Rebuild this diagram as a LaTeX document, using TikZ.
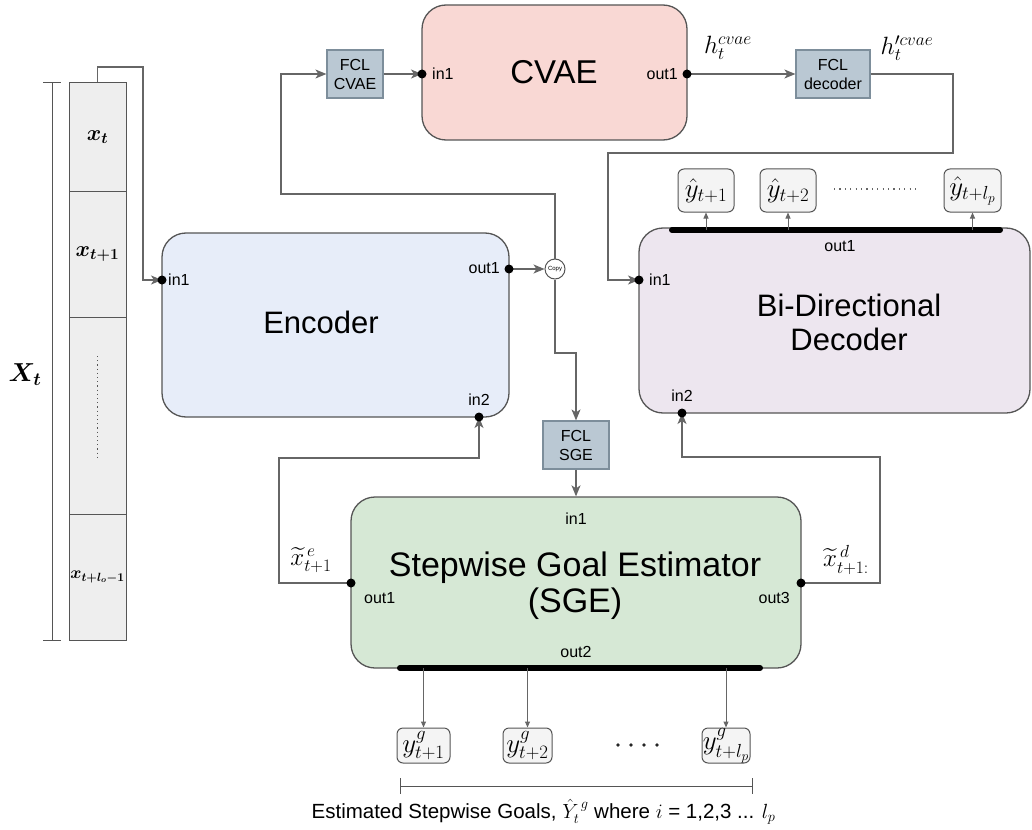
\RequirePackage{fix-cm}
\documentclass[tikz,border=0pt]{standalone}
\usepackage{amsmath,bm}
\usepackage{fontspec}
\setmainfont{Liberation Sans}
\usetikzlibrary{arrows.meta}

\definecolor{linec}{HTML}{555555}
\definecolor{connc}{HTML}{666666}
\definecolor{cvaefill}{HTML}{F9D8D4}
\definecolor{encfill}{HTML}{E7EDF9}
\definecolor{decfill}{HTML}{EDE6EF}
\definecolor{sgefill}{HTML}{D6E8D5}
\definecolor{fclfill}{HTML}{BAC8D3}
\definecolor{fclline}{HTML}{7D8E9B}
\definecolor{outfill}{HTML}{F4F4F4}
\definecolor{colfill}{HTML}{EEEEEE}

\newcommand{\bigtxt}{\fontsize{31}{36}\selectfont}
\newcommand{\porttxt}{\fontsize{16}{19}\selectfont}
\newcommand{\fcltxt}{\fontsize{16}{19}\selectfont}
\newcommand{\mathlab}{\fontsize{25}{28}\selectfont}
\newcommand{\boxmath}{\fontsize{27}{30}\selectfont}

\tikzset{
  block/.style={draw=linec, line width=1.3pt, rounded corners=24pt, inner sep=0pt},
  fcl/.style={draw=fclline, line width=1.2pt, fill=fclfill, inner sep=0pt,
              minimum height=48pt, align=center, font=\fcltxt},
  outbox/.style={draw=linec, line width=1pt, fill=outfill, rounded corners=6pt,
                 inner sep=0pt, font=\boxmath},
  cell/.style={draw=linec, line width=1pt, fill=colfill, inner sep=0pt,
               minimum width=57pt},
  conn/.style={draw=connc, line width=1.3pt},
  arr/.style={conn, -{Stealth[length=11pt,width=9pt,inset=3pt]}},
  sarr/.style={draw=connc, line width=1pt, -{Triangle[length=6pt,width=5pt]}},
  bar/.style={line width=6pt, line cap=round, black},
  port/.style={font=\porttxt, inner sep=2pt},
  pdot/.style={fill=black}
}

\begin{document}
\begin{tikzpicture}[x=1pt,y=-1pt]
\useasboundingbox (0,0) rectangle (1032,829);

% ---------- main blocks ----------
\node[block, fill=cvaefill, minimum width=265pt, minimum height=135pt] (cvae) at (554.5,72.5) {};
\node[font=\fontsize{33}{38}\selectfont] (cvaet) at (554,72) {CVAE};

\node[block, fill=encfill, minimum width=347pt, minimum height=184pt] (enc) at (335.5,325) {};
\node[font=\bigtxt] (enct) at (321,322) {Encoder};

\node[block, fill=decfill, minimum width=391pt, minimum height=185pt] (dec) at (834.5,320.5) {};
\node[font=\bigtxt, align=center] (dect) at (849,322) {Bi-Directional\\[-2pt]Decoder};

\node[block, fill=sgefill, minimum width=450pt, minimum height=171pt] (sge) at (576,582.5) {};
\node[font=\fontsize{34}{39}\selectfont, align=center] (sget) at (575,586) {Stepwise Goal Estimator\\[-3pt](SGE)};

% ---------- fully connected layers ----------
\node[fcl, minimum width=56pt] (fclc) at (355,74) {FCL\\CVAE};
\node[fcl, minimum width=74pt] (fcld) at (833,74) {FCL\\decoder};
\node[fcl, minimum width=66pt] (fcls) at (576,445) {FCL\\SGE};

% ---------- copy junction ----------
\node[draw=linec, line width=1pt, fill=white, circle, minimum size=20pt, inner sep=0pt,
      font=\fontsize{6}{7}\selectfont] (copy) at (555,269) {Copy};

% ---------- ports ----------
\coordinate (ein1) at (162,280);
\coordinate (eout1) at (509,269);
\coordinate (ein2) at (479,417);
\coordinate (cin1) at (422,74);
\coordinate (cout1) at (687,74);
\coordinate (din1) at (639,280);
\coordinate (din2) at (682,413);
\coordinate (sout1) at (351,583);
\coordinate (sout3) at (801,583);

\node[port, anchor=west] (l1) at (166,280) {in1};
\node[port, anchor=east] (l2) at (502,268) {out1};
\node[port, anchor=south] (l3) at (479,408) {in2};
\node[port, anchor=west] (l4) at (430,74) {in1};
\node[port, anchor=east] (l5) at (680,74) {out1};
\node[port, anchor=west] (l6) at (647,280) {in1};
\node[port, anchor=south] (l7) at (682,404) {in2};
\node[port] (l8) at (840,246) {out1};
\node[port] (l9) at (576,519) {in1};
\node[port, anchor=north west] (l10) at (362,590) {out1};
\node[port, anchor=north east] (l11) at (792,590) {out3};
\node[port] (l12) at (576,652) {out2};

% ---------- input sequence column ----------
\node[cell, minimum height=108pt] (col1) at (97.5,137) {\fontsize{22}{24}\selectfont$\bm{x_t}$};
\node[cell, minimum height=126pt] (col2) at (97.5,254) {\fontsize{22}{24}\selectfont$\bm{x_{t+1}}$};
\node[cell, minimum height=197pt] (col3) at (97.5,415.5) {};
\node[cell, minimum height=126pt] (col4) at (97.5,577) {\fontsize{17}{19}\selectfont$\bm{x_{t+l_o-1}}$};
\draw[linec, line width=1.6pt, dash pattern=on 1.2pt off 3pt] (97.5,356) -- (97.5,460);

% bracket for X_t
\coordinate (xbt) at (52,83);
\coordinate (xbb) at (52,640);
\draw[linec, line width=1pt] (xbt) -- (xbb) (43,83) -- (61,83) (43,640) -- (61,640);
\node[font=\fontsize{26}{30}\selectfont] (xlab) at (25,375) {$\bm{X_t}$};

% ---------- connectors ----------
\coordinate (k1) at (143,67);
\draw[arr] (col1.north) |- (k1) |- (ein1);

\draw[arr] (eout1) -- (copy.west);
\coordinate (k2) at (281,194);
\draw[arr] (copy.north) |- (k2) |- (fclc.west);
\draw[arr] (fclc.east) -- (cin1);
\coordinate (k3) at (576,353);
\draw[arr] (copy.south) |- (k3) -- (fcls.north);
\draw[arr] (fcls.south) -- (sge.north);

\draw[arr] (cout1) -- (fcld.west);
\coordinate (k4) at (953,153);
\coordinate (k5) at (608,153);
\draw[arr] (fcld.east) -| (k4) -- (k5) |- (din1);

\coordinate (k6) at (279,458);
\draw[arr] (sout1) -| (k6) -| (ein2);
\coordinate (k7) at (880,457);
\draw[arr] (sout3) -| (k7) -| (din2);

% connector labels
\node[font=\mathlab] (hc) at (728,48) {$h_t^{cvae}$};
\node[font=\mathlab] (hc2) at (907,48) {$h_t^{\prime cvae}$};
\node[font=\mathlab] (xe) at (311,560) {$\widetilde{x}^{\,e}_{t+1}$};
\node[font=\mathlab] (xd) at (846,560) {$\widetilde{x}^{\,d}_{t+1:}$};

% port dots
\foreach \p in {ein1,eout1,ein2,cin1,cout1,din1,din2,sout1,sout3}
  \fill[pdot] (\p) circle (4.5pt);

% ---------- decoder outputs ----------
\coordinate (dbl) at (672,230);
\coordinate (dbr) at (1000,230);
\draw[bar] (dbl) -- (dbr);
\node[outbox, minimum width=56pt, minimum height=43pt] (yh1) at (706,190.5) {$\hat{y}_{t+1}$};
\node[outbox, minimum width=56pt, minimum height=43pt] (yh2) at (788,190.5) {$\hat{y}_{t+2}$};
\node[outbox, minimum width=57pt, minimum height=43pt] (yh3) at (972.5,190.5) {$\hat{y}_{t+l_p}$};
\foreach \b in {yh1,yh2,yh3}
  \draw[sarr] (\b.south |- dbl) -- (\b.south);
\draw[connc, line width=1.4pt, dash pattern=on 1.2pt off 4.2pt] (834,189) -- (920,189);

% ---------- SGE outputs ----------
\coordinate (sbl) at (400,668);
\coordinate (sbr) at (760,668);
\draw[bar] (sbl) -- (sbr);
\node[outbox, minimum width=53pt, minimum height=35pt] (yg1) at (423.5,745.5) {$y^g_{t+1}$};
\node[outbox, minimum width=49pt, minimum height=35pt] (yg2) at (527.5,745.5) {$y^g_{t+2}$};
\node[outbox, minimum width=48pt, minimum height=35pt] (yg3) at (726,745.5) {$y^g_{t+l_p}$};
\foreach \b in {yg1,yg2,yg3}
  \draw[sarr] (\b.north |- sbl) -- (\b.north);
\foreach \x in {618,631,644,657}
  \fill[black!85] (\x,745) circle (1.8pt);

% bracket for the estimated goals
\coordinate (gbl) at (400,786);
\coordinate (gbr) at (752,786);
\draw[linec, line width=1pt] (gbl) -- (gbr) (400,778) -- (400,794) (752,778) -- (752,794);
\node[anchor=east, font=\fontsize{20.5}{23}\selectfont] (glab) at (779,812)
  {Estimated Stepwise Goals, $\hat{Y}_t^{\,g}$ where $i$ = 1,2,3 ... $l_p$};

\end{tikzpicture}
\end{document}
